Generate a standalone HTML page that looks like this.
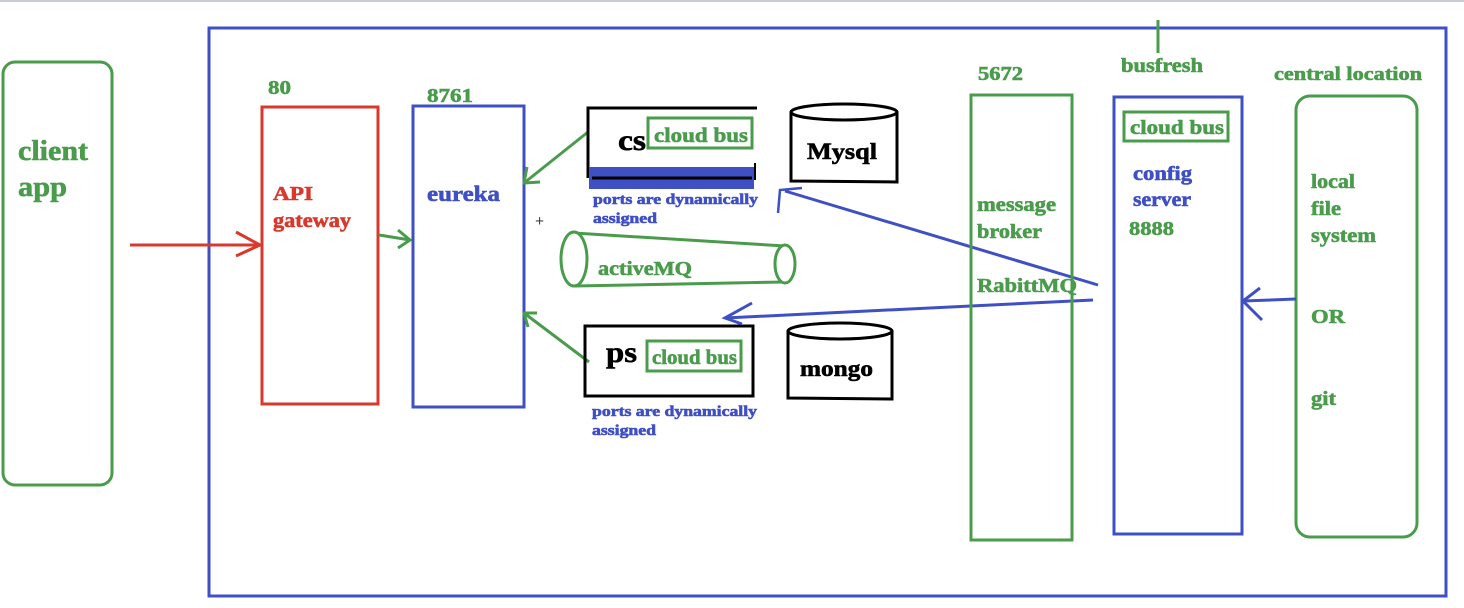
<!DOCTYPE html>
<html><head><meta charset="utf-8"><style>
html,body{margin:0;padding:0;background:#fff;}
svg{display:block;}
text{font-family:"Liberation Serif","DejaVu Serif",serif;font-weight:700;stroke-width:0.6;}
.g{fill:#4a9c4c;stroke:#4a9c4c}.b{fill:#3f4fc4;stroke:#3f4fc4}.r{fill:#d8392c;stroke:#d8392c}.k{fill:#000;stroke:#000}
</style></head><body>
<svg width="1464" height="608" viewBox="0 0 1464 608" xmlns="http://www.w3.org/2000/svg">
<rect x="0" y="0" width="1464" height="2" fill="#c8ccd4"/>
<rect x="209" y="28" width="1237" height="568" fill="none" stroke="#3f4fc4" stroke-width="3"/>
<!-- client app -->
<rect x="3" y="62" width="109" height="423" rx="12" fill="none" stroke="#4a9c4c" stroke-width="3"/>
<text x="18" y="160" font-size="28" class="g" textLength="70" lengthAdjust="spacingAndGlyphs">client</text>
<text x="18" y="196" font-size="28" class="g" textLength="49" lengthAdjust="spacingAndGlyphs">app</text>
<line x1="130" y1="245" x2="260" y2="245" stroke="#d8392c" stroke-width="3"/>
<polyline points="236,232 260,245 236,256" fill="none" stroke="#d8392c" stroke-width="3"/>
<!-- API gateway -->
<text x="268" y="94" font-size="20" class="g" textLength="23" lengthAdjust="spacingAndGlyphs">80</text>
<rect x="262" y="107" width="116" height="297" fill="none" stroke="#d8392c" stroke-width="3"/>
<text x="273" y="200" font-size="20" class="r" textLength="40" lengthAdjust="spacingAndGlyphs">API</text>
<text x="273" y="227" font-size="20" class="r" textLength="78" lengthAdjust="spacingAndGlyphs">gateway</text>
<line x1="379" y1="235" x2="410" y2="240" stroke="#4a9c4c" stroke-width="3"/>
<polyline points="398,230 410,240 398,248" fill="none" stroke="#4a9c4c" stroke-width="3"/>
<!-- eureka -->
<text x="427" y="102" font-size="20" class="g" textLength="46" lengthAdjust="spacingAndGlyphs">8761</text>
<rect x="413" y="106" width="111" height="301" fill="none" stroke="#3f4fc4" stroke-width="3"/>
<text x="427" y="201" font-size="22" class="b" textLength="73" lengthAdjust="spacingAndGlyphs">eureka</text>
<text x="535" y="226" font-size="16" fill="#444" stroke="none" font-weight="normal">+</text>
<line x1="588" y1="132" x2="524" y2="183" stroke="#4a9c4c" stroke-width="3"/>
<polyline points="527,167 524,183 540,182" fill="none" stroke="#4a9c4c" stroke-width="3"/>
<line x1="589" y1="362" x2="524" y2="313" stroke="#4a9c4c" stroke-width="3"/>
<polyline points="537,313 524,313 528,327" fill="none" stroke="#4a9c4c" stroke-width="3"/>
<!-- cs -->
<polyline points="588,178 588,108 757,108" fill="none" stroke="#000" stroke-width="3"/>
<line x1="755" y1="163" x2="755" y2="180" stroke="#000" stroke-width="2"/>
<rect x="589" y="167" width="165" height="22" fill="#3f4fc4"/>
<line x1="592" y1="178" x2="752" y2="178" stroke="#000" stroke-width="3"/>
<text x="618" y="150" font-size="30" class="k" textLength="28" lengthAdjust="spacingAndGlyphs">cs</text>
<rect x="648" y="118" width="104" height="30" fill="none" stroke="#4a9c4c" stroke-width="3"/>
<text x="654" y="142" font-size="21" class="g" textLength="94" lengthAdjust="spacingAndGlyphs">cloud bus</text>
<text x="593" y="204" font-size="15" class="b" textLength="165" lengthAdjust="spacingAndGlyphs">ports are dynamically</text>
<text x="593" y="223" font-size="15" class="b" textLength="64" lengthAdjust="spacingAndGlyphs">assigned</text>
<!-- Mysql -->
<path d="M791,112 L791,181 L897,182 L897,112" fill="none" stroke="#000" stroke-width="3"/>
<ellipse cx="844" cy="112" rx="53" ry="8" fill="#fff" stroke="#000" stroke-width="3"/>
<text x="807" y="159" font-size="23" class="k" textLength="70" lengthAdjust="spacingAndGlyphs">Mysql</text>
<!-- activeMQ -->
<path d="M574,233 L785,246 M574,286 L785,282" fill="none" stroke="#4a9c4c" stroke-width="3"/>
<ellipse cx="574" cy="259" rx="13" ry="27" fill="#fff" stroke="#4a9c4c" stroke-width="3"/>
<ellipse cx="785" cy="264" rx="10" ry="19" fill="#fff" stroke="#4a9c4c" stroke-width="3"/>
<text x="598" y="275" font-size="20" class="g" textLength="94" lengthAdjust="spacingAndGlyphs">activeMQ</text>
<!-- ps -->
<rect x="585" y="326" width="168" height="70" fill="none" stroke="#000" stroke-width="3"/>
<text x="606" y="362" font-size="30" class="k" textLength="31" lengthAdjust="spacingAndGlyphs">ps</text>
<rect x="647" y="341" width="94" height="30" fill="none" stroke="#4a9c4c" stroke-width="3"/>
<text x="652" y="364" font-size="21" class="g" textLength="85" lengthAdjust="spacingAndGlyphs">cloud bus</text>
<text x="592" y="416" font-size="15" class="b" textLength="165" lengthAdjust="spacingAndGlyphs">ports are dynamically</text>
<text x="592" y="435" font-size="15" class="b" textLength="64" lengthAdjust="spacingAndGlyphs">assigned</text>
<!-- mongo -->
<path d="M788,331 L788,398 L892,399 L892,331" fill="none" stroke="#000" stroke-width="3"/>
<ellipse cx="840" cy="331" rx="52" ry="8" fill="#fff" stroke="#000" stroke-width="3"/>
<text x="800" y="376" font-size="23" class="k" textLength="73" lengthAdjust="spacingAndGlyphs">mongo</text>
<!-- blue connectors -->
<line x1="785" y1="191" x2="1098" y2="285" stroke="#3f4fc4" stroke-width="3"/>
<path d="M778,213 L780,190 L802,188" fill="none" stroke="#3f4fc4" stroke-width="2.5"/>
<line x1="725" y1="318" x2="1093" y2="300" stroke="#3f4fc4" stroke-width="3"/>
<polyline points="752,303 725,318 742,324" fill="none" stroke="#3f4fc4" stroke-width="3"/>
<!-- message broker -->
<text x="978" y="80" font-size="20" class="g" textLength="45" lengthAdjust="spacingAndGlyphs">5672</text>
<rect x="971" y="95" width="101" height="445" fill="none" stroke="#4a9c4c" stroke-width="3"/>
<text x="977" y="211" font-size="20" class="g" textLength="79" lengthAdjust="spacingAndGlyphs">message</text>
<text x="977" y="238" font-size="20" class="g" textLength="65" lengthAdjust="spacingAndGlyphs">broker</text>
<text x="977" y="292" font-size="20" class="g" textLength="100" lengthAdjust="spacingAndGlyphs">RabittMQ</text>
<!-- config server -->
<line x1="1158" y1="20" x2="1158" y2="53" stroke="#4a9c4c" stroke-width="3"/>
<text x="1121" y="72" font-size="20" class="g" textLength="82" lengthAdjust="spacingAndGlyphs">busfresh</text>
<rect x="1114" y="97" width="128" height="437" fill="none" stroke="#3f4fc4" stroke-width="3"/>
<rect x="1124" y="112" width="104" height="29" fill="none" stroke="#4a9c4c" stroke-width="3"/>
<text x="1130" y="134" font-size="20" class="g" textLength="94" lengthAdjust="spacingAndGlyphs">cloud bus</text>
<text x="1133" y="180" font-size="20" class="b" textLength="59" lengthAdjust="spacingAndGlyphs">config</text>
<text x="1133" y="206" font-size="20" class="b" textLength="58" lengthAdjust="spacingAndGlyphs">server</text>
<text x="1129" y="235" font-size="20" class="g" textLength="45" lengthAdjust="spacingAndGlyphs">8888</text>
<!-- central location -->
<text x="1274" y="80" font-size="19" class="g" textLength="148" lengthAdjust="spacingAndGlyphs">central location</text>
<rect x="1296" y="96" width="121" height="441" rx="14" fill="none" stroke="#4a9c4c" stroke-width="3"/>
<text x="1311" y="188" font-size="20" class="g" textLength="44" lengthAdjust="spacingAndGlyphs">local</text>
<text x="1311" y="215" font-size="20" class="g" textLength="30" lengthAdjust="spacingAndGlyphs">file</text>
<text x="1311" y="242" font-size="20" class="g" textLength="65" lengthAdjust="spacingAndGlyphs">system</text>
<text x="1311" y="323" font-size="20" class="g" textLength="34" lengthAdjust="spacingAndGlyphs">OR</text>
<text x="1311" y="405" font-size="20" class="g" textLength="25" lengthAdjust="spacingAndGlyphs">git</text>
<line x1="1296" y1="299" x2="1243" y2="301" stroke="#3f4fc4" stroke-width="3"/>
<polyline points="1260,288 1243,301 1262,320" fill="none" stroke="#3f4fc4" stroke-width="3"/>
</svg>
</body></html>
